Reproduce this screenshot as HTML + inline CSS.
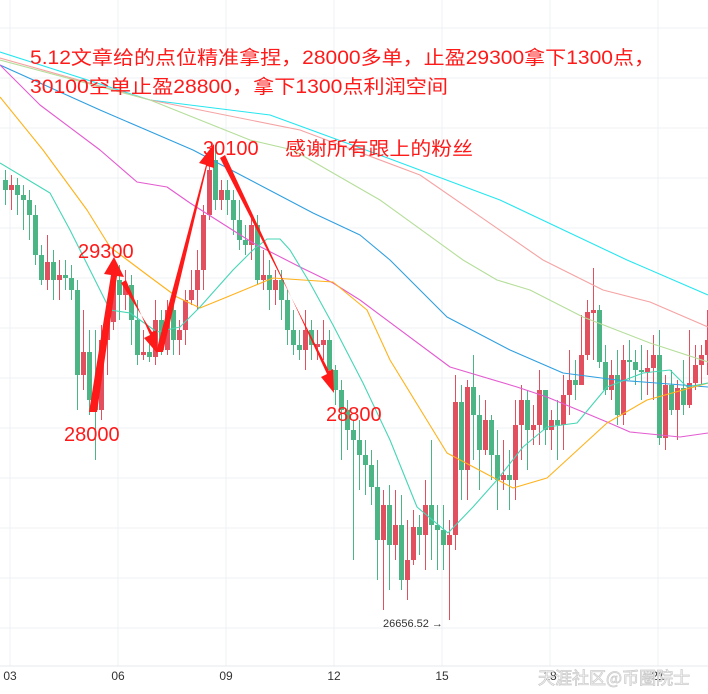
<!DOCTYPE html>
<html><head><meta charset="utf-8"><style>
body{margin:0;background:#fff;width:708px;height:694px;overflow:hidden}
svg{display:block}
</style></head><body>
<svg width="708" height="694" xmlns="http://www.w3.org/2000/svg">
<rect width="708" height="694" fill="#fff"/>
<g stroke="#eef2f6" stroke-width="1">
<path d="M0 28H708M0 78H708M0 128H708M0 178H708M0 228H708M0 278H708M0 328H708M0 378H708M0 428H708M0 478H708M0 528H708M0 578H708M0 628H708"/>
<path d="M10 0V666M118 0V666M226 0V666M334 0V666M442 0V666M550 0V666M658 0V666"/>
</g>
<g stroke="#e24f5e" stroke-width="1" fill="none">
<path d="M11.5 175V210M47.5 235V290M59.5 260V300M83.5 310V390M101.5 325V420M107.5 300V375M113.5 270V330M125.5 270V310M143.5 330V360M155.5 300V365M167.5 300V355M179.5 320V355M185.5 290V345M191.5 270V305M197.5 250V310M203.5 205V290M209.5 160V220M221.5 180V210M251.5 215V260M263.5 250V290M275.5 270V305M305.5 310V370M317.5 330V360M323.5 320V360M383.5 490V610M395.5 490V560M407.5 520V600M413.5 510V565M425.5 480V570M449.5 520V620M455.5 375V550M467.5 380V500M485.5 400V455M503.5 440V490M515.5 400V500M521.5 385V460M533.5 405V445M539.5 370V445M551.5 410V450M563.5 375V450M569.5 350V415M581.5 315V385M587.5 300V360M593.5 268V360M611.5 360V400M623.5 345V425M647.5 350V395M653.5 335V400M665.5 375V450M677.5 380V440M689.5 330V408M695.5 345V390M701.5 345V385M707.5 310V375"/>
</g>
<path fill="#e24f5e" d="M9 185h5V190h-5zM45 262h5V280h-5zM57 275h5V280h-5zM81 352h5V375h-5zM99 340h5V410h-5zM105 322h5V340h-5zM111 280h5V322h-5zM123 285h5V295h-5zM141 352h5V355h-5zM153 320h5V357h-5zM165 310h5V350h-5zM177 330h5V340h-5zM183 300h5V330h-5zM189 290h5V300h-5zM195 270h5V290h-5zM201 215h5V270h-5zM207 170h5V215h-5zM219 190h5V200h-5zM249 225h5V245h-5zM261 275h5V280h-5zM273 280h5V290h-5zM303 330h5V350h-5zM315 344h5V347h-5zM321 340h5V345h-5zM381 505h5V540h-5zM393 525h5V545h-5zM405 560h5V580h-5zM411 527h5V560h-5zM423 505h5V535h-5zM447 535h5V545h-5zM453 402h5V535h-5zM465 387h5V470h-5zM483 420h5V450h-5zM501 475h5V480h-5zM513 425h5V480h-5zM519 400h5V425h-5zM531 425h5V430h-5zM537 390h5V425h-5zM549 420h5V430h-5zM561 395h5V425h-5zM567 380h5V395h-5zM579 355h5V385h-5zM585 312h5V355h-5zM591 310h5V313h-5zM609 375h5V390h-5zM621 360h5V415h-5zM645 368h5V372h-5zM651 355h5V368h-5zM663 385h5V438h-5zM675 388h5V410h-5zM687 383h5V405h-5zM693 365h5V383h-5zM699 355h5V365h-5zM705 340h5V355h-5z"/>
<g stroke="#4bb585" stroke-width="1" fill="none">
<path d="M5.5 170V205M17.5 178V215M23.5 185V230M29.5 190V240M35.5 205V265M41.5 245V285M53.5 250V300M65.5 260V290M71.5 265V300M77.5 280V410M89.5 330V415M95.5 330V460M119.5 265V320M131.5 275V345M137.5 300V365M149.5 340V362M161.5 310V355M173.5 300V355M215.5 145V210M227.5 180V215M233.5 190V235M239.5 200V250M245.5 225V255M257.5 215V285M269.5 260V310M281.5 270V320M287.5 290V345M293.5 310V355M299.5 330V360M311.5 320V360M329.5 330V380M335.5 365V405M341.5 380V460M347.5 400V450M353.5 420V560M359.5 420V490M365.5 440V495M371.5 450V505M377.5 460V580M389.5 485V590M401.5 495V590M419.5 515V555M431.5 440V560M437.5 505V570M443.5 505V570M461.5 385V500M473.5 355V460M479.5 395V490M491.5 415V480M497.5 430V510M509.5 450V510M527.5 390V470M545.5 390V445M557.5 400V460M575.5 360V400M599.5 305V368M605.5 345V395M617.5 350V425M629.5 340V380M635.5 350V385M641.5 345V400M659.5 330V445M671.5 370V415M683.5 360V415"/>
</g>
<path fill="#4bb585" d="M3 180h5V190h-5zM15 185h5V195h-5zM21 195h5V200h-5zM27 200h5V215h-5zM33 215h5V255h-5zM39 255h5V280h-5zM51 262h5V280h-5zM63 275h5V278h-5zM69 278h5V290h-5zM75 290h5V375h-5zM87 352h5V400h-5zM93 400h5V410h-5zM117 280h5V295h-5zM129 285h5V320h-5zM135 320h5V355h-5zM147 352h5V357h-5zM159 320h5V350h-5zM171 310h5V340h-5zM213 160h5V200h-5zM225 190h5V200h-5zM231 200h5V220h-5zM237 220h5V240h-5zM243 240h5V245h-5zM255 225h5V280h-5zM267 275h5V290h-5zM279 280h5V300h-5zM285 300h5V330h-5zM291 330h5V345h-5zM297 345h5V350h-5zM309 330h5V345h-5zM327 340h5V370h-5zM333 370h5V390h-5zM339 390h5V410h-5zM345 410h5V430h-5zM351 430h5V440h-5zM357 440h5V455h-5zM363 455h5V465h-5zM369 465h5V487h-5zM375 487h5V540h-5zM387 505h5V545h-5zM399 525h5V580h-5zM417 527h5V535h-5zM429 505h5V525h-5zM435 525h5V530h-5zM441 530h5V545h-5zM459 402h5V470h-5zM471 387h5V415h-5zM477 415h5V450h-5zM489 420h5V455h-5zM495 455h5V480h-5zM507 475h5V480h-5zM525 400h5V430h-5zM543 390h5V430h-5zM555 420h5V425h-5zM573 380h5V385h-5zM597 310h5V362h-5zM603 362h5V390h-5zM615 375h5V415h-5zM627 360h5V362h-5zM633 362h5V370h-5zM639 370h5V372h-5zM657 355h5V438h-5zM669 385h5V410h-5zM681 388h5V405h-5z"/>
<g fill="none" stroke-width="1.1" stroke-linejoin="round">
<polyline stroke="#26e6f0" points="0,52 150,100 270,115 385,157 500,200 627,260 708,295"/>
<polyline stroke="#f5a3a3" points="0,58 150,100 300,130 420,175 543,260 603,290 650,302 708,327"/>
<polyline stroke="#b5de9a" points="0,60 150,100 250,140 293,150 380,200 463,260 497,280 530,290 583,317 650,343 708,362"/>
<polyline stroke="#2f9fe0" points="0,65 100,110 193,150 313,213 360,235 390,260 447,317 510,350 563,373 617,380 708,387"/>
<polyline stroke="#e35bd0" points="0,65 40,105 100,150 137,182 167,187 190,203 253,243 300,267 333,283 360,300 450,367 517,387 547,397 607,422 630,432 680,437 708,433"/>
<polyline stroke="#ffb21a" points="0,97 43,150 87,210 110,247 150,277 177,297 200,308 227,297 273,278 333,282 367,310 390,360 447,453 513,488 547,478 607,423 647,400 708,383"/>
<polyline stroke="#45d6b5" points="0,163 50,193 70,230 100,290 110,310 130,313 157,332 180,327 200,307 233,270 253,250 267,239 280,239 290,250 310,283 333,325 363,383 390,440 417,507 448,533 473,507 497,480 523,447 547,427 577,423 607,387 643,373 670,370 687,387 708,383"/>
</g>
<line x1="0" y1="666" x2="708" y2="666" stroke="#e6e9ee"/>
<g font-family="Liberation Sans, sans-serif" font-size="12" fill="#333" text-anchor="middle">
<text x="10" y="680">03</text><text x="118" y="680">06</text><text x="226" y="680">09</text><text x="334" y="680">12</text><text x="442" y="680">15</text><text x="550" y="680">18</text><text x="658" y="680">21</text>
</g>
<text x="383" y="627" font-family="Liberation Sans, sans-serif" font-size="11" fill="#333">26656.52 →</text>
<g fill="#ff1a1a">
<polygon points="89,412 97,412 117,276 124,277 114,257 104,274 111,275"/>
<polygon points="121,283 126,280 150,335 144,338 157,353 157,330 152,332"/>
<polygon points="156,352 163,352 207,166 214,168 214,144 199,163 206,165"/>
<polygon points="220,158 225,155 327,374 321,377 334,393 333,369 329,371"/>
</g>
<g font-family="Liberation Sans, 'Noto Sans CJK SC', sans-serif" fill="#ff1a1a">
<text x="30" y="64" font-size="19" textLength="625" lengthAdjust="spacingAndGlyphs">5.12文章给的点位精准拿捏，28000多单，止盈29300拿下1300点，</text>
<text x="30" y="93" font-size="19" textLength="418" lengthAdjust="spacingAndGlyphs">30100空单止盈28800，拿下1300点利润空间</text>
<text x="203" y="155" font-size="20">30100</text>
<text x="285" y="155" font-size="19" textLength="188" lengthAdjust="spacingAndGlyphs">感谢所有跟上的粉丝</text>
<text x="78" y="258" font-size="20">29300</text>
<text x="64" y="441" font-size="20">28000</text>
<text x="326" y="421" font-size="20">28800</text>
</g>
<text x="538" y="684" font-family="'Noto Sans CJK SC', sans-serif" font-size="17" fill="#fff" stroke="#ccc" stroke-width="0.8">天涯社区@币圈院士</text>
</svg>
</body></html>
